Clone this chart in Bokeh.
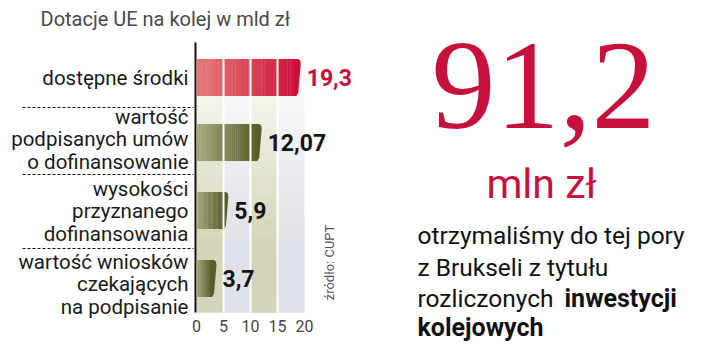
import numpy as np
from bokeh.plotting import figure
from bokeh.models import Range1d, FixedTicker
from bokeh.core.properties import value
from bokeh.embed import file_html
from bokeh.resources import INLINE

# ---------------- data ----------------
title_text = "Dotacje UE na kolej w mld zł"
categories = [
    "dostępne środki",
    "wartość\npodpisanych umów\no dofinansowanie",
    "wysokości\nprzyznanego\ndofinansowania",
    "wartość wniosków\nczekających\nna podpisanie",
]
values = [19.3, 12.07, 5.9, 3.7]
value_labels = ["19,3", "12,07", "5,9", "3,7"]
x_ticks = [0, 5, 10, 15, 20]
x_tick_labels = ["0", "5", "10", "15", "20"]
source_text = "źródło: CUPT"
headline_value = "91,2"
headline_unit = "mln zł"
blurb_normal = ["otrzymaliśmy do tej pory", "z Brukseli z tytułu", "rozliczonych "]
blurb_bold = ["inwestycji", "kolejowych"]

# ---------------- layout / style ----------------
RED = "#c8103c"
W, H = 720, 355
CHART_BOTTOM = 312
X0_PX, PX_PER_UNIT = 196, 5.4


def dx(px):
    return px / PX_PER_UNIT


def xd(px):
    return (px - X0_PX) / PX_PER_UNIT


row_y = [77, 142, 210, 278]
label_y = [77, 139, 211, 284]
sep_y = [107, 174, 248]
BAR_H = 37
BAND_TOP = 58

p = figure(width=W, height=H, x_range=Range1d(xd(0), xd(W)),
           y_range=Range1d(H, 0), output_backend="svg", toolbar_location=None,
           min_border=0, y_axis_location=None)
p.grid.visible = False
p.outline_line_color = None
p.background_fill_color = "white"
p.border_fill_color = "white"

ax = p.xaxis[0]
ax.fixed_location = CHART_BOTTOM
ax.ticker = FixedTicker(ticks=x_ticks)
ax.major_label_overrides = {t: l for t, l in zip(x_ticks, x_tick_labels)}
ax.axis_line_color = None
ax.major_tick_line_color = None
ax.minor_tick_line_color = None
ax.major_label_standoff = 1
ax.major_label_text_font = "Roboto"
ax.major_label_text_font_size = "16px"
ax.major_label_text_color = "#444444"

# background bands with vertical fade
band_cols = ["#d4d4b8", "#dfe1e8"]
n_strips = 32
edges = np.linspace(BAND_TOP, CHART_BOTTOM, n_strips + 1)
for b in range(len(x_ticks) - 1):
    for s in range(n_strips):
        mid = 0.5 * (edges[s] + edges[s + 1])
        a = min(1.0, 0.04 + (mid - BAND_TOP) / 190.0)
        p.quad(left=x_ticks[b], right=x_ticks[b + 1], top=edges[s], bottom=edges[s + 1] + 0.3,
               fill_color=band_cols[b % 2], fill_alpha=a, line_color=None)

# axis line
p.segment(x0=[xd(195)], x1=[xd(195)], y0=[42], y1=[CHART_BOTTOM], line_color="#111111",
          line_width=2)


def lerp(c1, c2, t):
    return "#%02x%02x%02x" % tuple(int(round(a + (b - a) * t)) for a, b in zip(c1, c2))


grads = [((228, 124, 122), (204, 14, 54))] + [((166, 166, 124), (88, 92, 42))] * 3
CAP = 7
n_sl = 30
for i, v in enumerate(values):
    top = row_y[i] - BAR_H / 2
    bot = row_y[i] + BAR_H / 2
    be = v - dx(CAP)
    xs = np.linspace(0, be, n_sl + 1)
    c1, c2 = grads[i]
    cols = [lerp(c1, c2, (k + 0.5) / (n_sl + 2)) for k in range(n_sl)]
    p.quad(left=xs[:-1], right=xs[1:] + dx(0.3), top=[top] * n_sl, bottom=[bot] * n_sl,
           fill_color=cols, line_color=None)
    capx = [be, v - dx(2.5), v - dx(0.5), v, v - dx(2.5), v - dx(4.5), be]
    capy = [top, top, top + 1.5, top + 5, bot - 3, bot, bot]
    p.patch(capx, capy, fill_color=lerp(c1, c2, 1.0), line_color=None)

# white separators between bands
p.segment(x0=x_ticks[1:-1], x1=x_ticks[1:-1], y0=[BAND_TOP - 1] * 3, y1=[CHART_BOTTOM] * 3,
          line_color="white", line_width=2)

# dashed separators
p.segment(x0=[xd(22)] * 3, x1=[xd(193)] * 3, y0=sep_y, y1=sep_y,
          line_color="#111111", line_width=1, line_dash="3 2")

# category labels
p.text(x=[xd(188)] * 4, y=label_y, text=categories, text_align="right",
       text_baseline="middle", text_font=value("Roboto"), text_font_size="20.5px",
       text_line_height=0.92, text_color="#1a1a1a")

# value labels
p.text(x=[v + dx(6) for v in values], y=row_y, text=value_labels, text_align="left",
       text_baseline="middle", text_font=value("Roboto"),
       text_font_style="bold", text_font_size="23px",
       text_color=[RED, "#151515", "#151515", "#151515"])

# title
p.text(x=[xd(40)], y=[18], text=[title_text], text_align="left", text_baseline="middle",
       text_font=value("Roboto"), text_font_size="20px", text_color="#4a4a4a")

# source
p.text(x=[xd(329)], y=[262], text=[source_text], angle=np.pi / 2, text_align="center",
       text_baseline="middle", text_font=value("Roboto"), text_font_size="13px",
       text_color="#555555")

# ---------------- right panel texts ----------------
p.text(x=[xd(543)], y=[85], text=[headline_value], text_align="center", text_baseline="middle",
       text_font=value("Liberation Serif"), text_font_size="128px", text_color=RED)
p.text(x=[xd(541)], y=[183], text=[headline_unit], text_align="center", text_baseline="middle",
       text_font=value("Roboto"), text_font_size="41px", text_color=RED)

blurb_y = [235, 267, 298, 327]
p.text(x=[xd(417)] * 3, y=blurb_y[:3], text=blurb_normal, text_align="left",
       text_baseline="middle", text_font=value("Roboto"), text_font_size="24.5px",
       text_color="#111111")
p.text(x=[xd(564), xd(417)], y=blurb_y[2:], text=blurb_bold, text_align="left",
       text_baseline="middle", text_font=value("Roboto"), text_font_style="bold",
       text_font_size="25px", text_color="#111111")

open("out.html", "w").write(file_html(p, INLINE))
